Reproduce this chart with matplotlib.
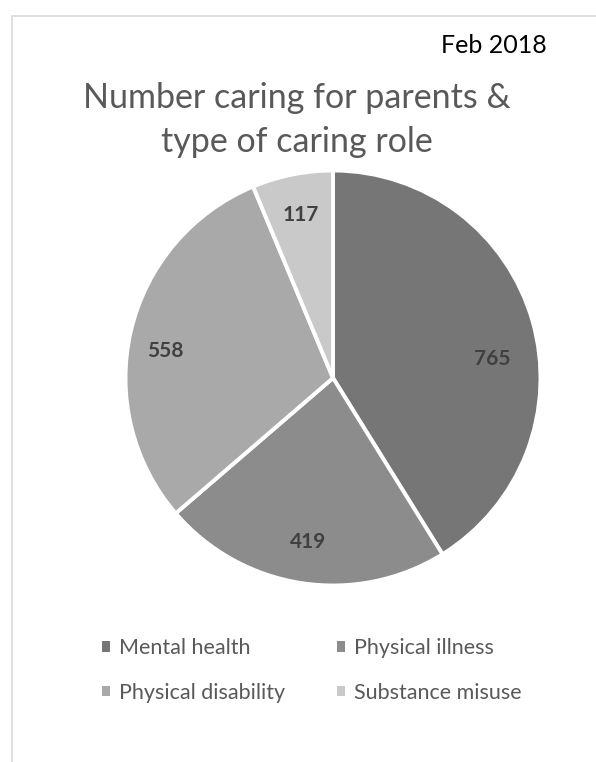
import matplotlib
matplotlib.use("Agg")
import matplotlib.pyplot as plt
from matplotlib.patches import Rectangle
from matplotlib.transforms import ScaledTranslation

categories = ["Mental health", "Physical illness", "Physical disability", "Substance misuse"]
counts = [765, 419, 558, 117]
colors = ["#767676", "#8c8c8c", "#a9a9a9", "#c9c9c9"]

title_lines = ["Number caring for parents &", "type of caring role"]
date_label = "Feb 2018"

plt.rcParams["font.family"] = ["Lato", "DejaVu Sans"]

W, H = 596, 762
fig = plt.figure(figsize=(W / 100, H / 100), dpi=100)

# light grey chart frame, only its top and left edges fall inside the image
fig.patches.append(Rectangle((12 / W, -0.1), 1.2, 1.1 - 16 / H,
                             transform=fig.transFigure, figure=fig,
                             facecolor="none", edgecolor="#d9d9d9", linewidth=1.2))

ax = fig.add_axes([(333 - 207.5) / W, (H - 378 - 207.5) / H, 415 / W, 415 / H])
wedges, texts, autotexts = ax.pie(
    counts, colors=colors, startangle=90, counterclock=False,
    autopct=lambda p: "{:.0f}".format(p * sum(counts) / 100),
    pctdistance=0.8,
    wedgeprops=dict(edgecolor="white", linewidth=2.8),
)
for t in autotexts:
    t.set_fontsize(15)
    t.set_fontweight("bold")
    t.set_color("#404040")
# excel's "best fit" puts a couple of labels a bit off the wedge middle
nudges = {0: (0, -27), 2: (-6, -11)}
for i, (dx, dy) in nudges.items():
    autotexts[i].set_transform(ax.transData + ScaledTranslation(dx / 100, dy / 100, fig.dpi_scale_trans))
for w in wedges:
    w.set_clip_on(False)
ax.set_xlim(-1, 1)
ax.set_ylim(-1, 1)

fig.text(547 / W, 1 - 53 / H, date_label, ha="right", va="baseline",
         fontsize=18, color="black")
fig.text(296.5 / W, 1 - 108 / H, title_lines[0], ha="center", va="baseline",
         fontsize=24.5, color="#595959")
fig.text(296.5 / W, 1 - 152 / H, title_lines[1], ha="center", va="baseline",
         fontsize=24.5, color="#595959")

# legend reads across rows, matplotlib fills down columns
order = [0, 2, 1, 3]
leg = fig.legend([wedges[i] for i in order], [categories[i] for i in order],
                 ncol=2, loc="upper left",
                 bbox_to_anchor=(102 / W, 1 - 638 / H), frameon=False,
                 fontsize=15.5, handlelength=0.38, handleheight=0.38,
                 handletextpad=0.42, columnspacing=2.4, labelspacing=1.14,
                 borderpad=0, borderaxespad=0, labelcolor="#595959")
for h in leg.legend_handles:
    h.set_linewidth(0)

fig.savefig("out.png", dpi=100)
